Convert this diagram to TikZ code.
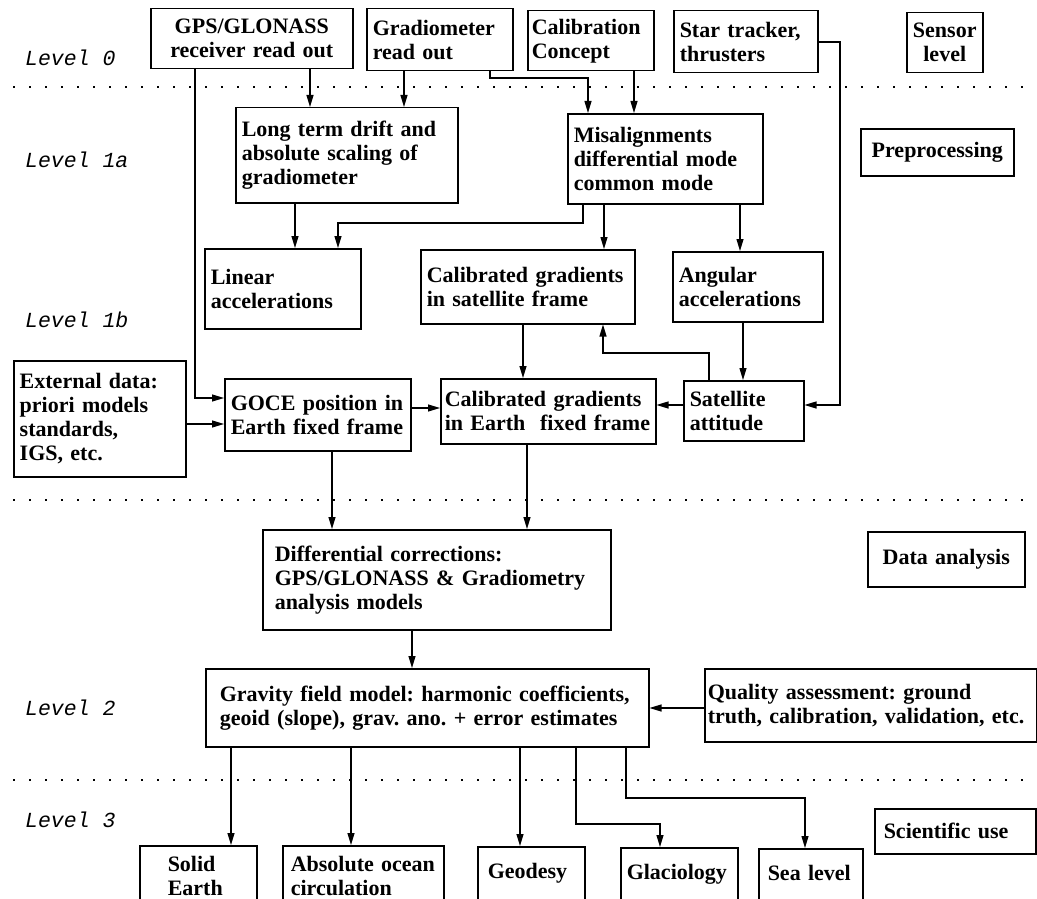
\documentclass[tikz,border=0pt]{standalone}
\usepackage{fontspec}
\setmainfont{Liberation Serif}
\newfontfamily\lvlfont{Liberation Mono}
\usetikzlibrary{arrows.meta}
\frenchspacing
\begin{document}
\begin{tikzpicture}[x=1pt,y=-1pt,
  bx/.style={draw, line width=1.5pt, anchor=north west, align=left, inner xsep=6pt, inner ysep=2pt, font=\bfseries\fontsize{22}{24}\selectfont},
  bot/.style={bx, text depth=90pt},
  ln/.style={line width=1.1pt},
  arr/.style={ln, -{Triangle[length=12pt,width=7pt]}},
  dots/.style={line width=2pt, dash pattern=on 2pt off 14pt},
  lvl/.style={anchor=west, inner sep=0pt, font=\lvlfont\itshape\fontsize{21.5}{24}\selectfont}]
\useasboundingbox (0,0) rectangle (1037,899);

% level labels
\node[lvl] (lvl0)  at (25,58)  {Level 0};
\node[lvl] (lvl1a) at (25,160) {Level 1a};
\node[lvl] (lvl1b) at (25,320) {Level 1b};
\node[lvl] (lvl2)  at (25,708) {Level 2};
\node[lvl] (lvl3)  at (25,820) {Level 3};

% separators
\draw[dots] (13,87) -- (1037,87);
\draw[dots] (13,500) -- (1037,500);
\draw[dots] (13,780) -- (1037,780);

% level 0
\node[bx, align=center, minimum width=202pt, minimum height=60pt, text width=190pt] (gps) at (150,8) {GPS/GLONASS\\receiver read out};
\node[bx, minimum width=146pt, minimum height=62pt, text width=134pt] (grad) at (366,8) {Gradiometer\\read out};
\node[bx, inner xsep=4pt, minimum width=126pt, minimum height=60pt, text width=118pt] (cal) at (527,10) {Calibration\\Concept};
\node[bx, minimum width=144pt, minimum height=62pt, text width=132pt] (star) at (673,10) {Star tracker,\\thrusters};
\node[bx, inner xsep=5pt, align=center, minimum width=76pt, minimum height=60pt, text width=66pt] (sensor) at (906,12) {Sensor\\level};

% level 1a
\node[bx, minimum width=222pt, minimum height=95pt, text width=210pt] (ltd) at (235,107) {Long term drift and\\absolute scaling of\\gradiometer};
\node[bx, minimum width=195pt, minimum height=90pt, text width=183pt] (mis) at (567,113) {Misalignments\\differential mode\\common mode};
\node[bx, align=center, minimum width=153pt, minimum height=47pt, text width=141pt] (prep) at (860,128) {Preprocessing};

% level 1b
\node[bx, minimum width=156pt, minimum height=80pt, text width=144pt] (lin) at (204,248) {Linear\\accelerations};
\node[bx, minimum width=214pt, minimum height=74pt, text width=202pt] (csat) at (420,249) {Calibrated gradients\\in satellite frame};
\node[bx, minimum width=150pt, minimum height=70pt, text width=138pt] (ang) at (672,251) {Angular\\accelerations};
\node[bx, minimum width=172pt, minimum height=116pt, text width=160pt] (ext) at (13,360) {External data:\\priori models\\standards,\\IGS, etc.};
\node[bx, minimum width=186pt, minimum height=72pt, text width=174pt] (goce) at (224,378) {GOCE position in\\Earth fixed frame};
\node[bx, inner xsep=4pt, minimum width=215pt, minimum height=65pt, text width=207pt] (cearth) at (440,378) {Calibrated gradients\\in Earth\ \ fixed frame};
\node[bx, minimum width=120pt, minimum height=60pt, text width=108pt] (sat) at (683,380) {Satellite\\attitude};

% data analysis
\node[bx, inner xsep=12pt, minimum width=348pt, minimum height=100pt, text width=324pt] (diff) at (262,529) {Differential corrections:\\GPS/GLONASS \& Gradiometry\\analysis models};
\node[bx, align=center, minimum width=157pt, minimum height=55pt, text width=145pt] (data) at (867,531) {Data analysis};

% level 2
\node[bx, inner xsep=14pt, minimum width=443pt, minimum height=78pt, text width=415pt] (grav) at (205,668) {Gravity field model: harmonic coefficients,\\geoid (slope), grav. ano. + error estimates};
\node[bx, inner xsep=3pt, minimum width=332pt, minimum height=73pt, text width=326pt] (qual) at (704,668) {Quality assessment: ground\\truth, calibration, validation, etc.};

% level 3
\node[bx, inner xsep=9pt, minimum width=161pt, minimum height=45pt, text width=143pt] (sci) at (874,808) {Scientific use};
\node[bot, inner xsep=28pt, inner ysep=10pt, minimum width=117pt, text width=61pt] (solid) at (139,845) {Solid\\Earth};
\node[bot, inner xsep=8pt, inner ysep=10pt, minimum width=161pt, text width=145pt] (ocean) at (282,845) {Absolute ocean\\circulation};
\node[bot, inner xsep=10pt, inner ysep=16pt, minimum width=107pt, text width=87pt] (geod) at (477,846) {Geodesy};
\node[bot, inner xsep=6pt, inner ysep=16pt, minimum width=117pt, text width=105pt] (glac) at (620,847) {Glaciology};
\node[bot, inner xsep=9pt, inner ysep=16pt, minimum width=104pt, text width=86pt] (sea) at (758,848) {Sea level};

% connectors level 0 -> 1a
\draw[arr] (310,0 |- gps.south) -- (310,0 |- ltd.north);
\draw[arr] (404,0 |- grad.south) -- (404,0 |- ltd.north);
\draw[arr] (490,0 |- grad.south) -- (490,78) -| (588,0 |- mis.north);
\draw[arr] (634,0 |- cal.south) -- (634,0 |- mis.north);
\draw[arr] (195,0 |- gps.south) |- (goce.west |- 0,398);
\draw[arr] (star.east |- 0,42) -- (840,42) |- (sat.east |- 0,405);

% level 1a -> 1b
\draw[arr] (295,0 |- ltd.south) -- (295,0 |- lin.north);
\draw[arr] (583,0 |- mis.south) |- (338,223) -- (338,0 |- lin.north);
\draw[arr] (604,0 |- mis.south) -- (604,0 |- csat.north);
\draw[arr] (740,0 |- mis.south) -- (740,0 |- ang.north);

% level 1b
\draw[arr] (743,0 |- ang.south) -- (743,0 |- sat.north);
\draw[arr] (523,0 |- csat.south) -- (523,0 |- cearth.north);
\draw[arr] (709,0 |- sat.north) |- (603,353) -- (603,0 |- csat.south);
\draw[arr] (ext.east |- 0,424) -- (goce.west |- 0,424);
\draw[arr] (goce.east |- 0,408) -- (cearth.west |- 0,408);
\draw[arr] (sat.west |- 0,405) -- (cearth.east |- 0,405);

% to data analysis
\draw[arr] (332,0 |- goce.south) -- (332,0 |- diff.north);
\draw[arr] (527,0 |- cearth.south) -- (527,0 |- diff.north);
\draw[arr] (412,0 |- diff.south) -- (412,0 |- grav.north);
\draw[arr] (qual.west |- 0,708) -- (grav.east |- 0,708);

% level 2 -> 3
\draw[arr] (231,0 |- grav.south) -- (231,0 |- solid.north);
\draw[arr] (351,0 |- grav.south) -- (351,0 |- ocean.north);
\draw[arr] (520,0 |- grav.south) -- (520,0 |- geod.north);
\draw[arr] (576,0 |- grav.south) |- (660,824) -- (660,0 |- glac.north);
\draw[arr] (626,0 |- grav.south) |- (805,798) -- (805,0 |- sea.north);
\end{tikzpicture}
\end{document}
